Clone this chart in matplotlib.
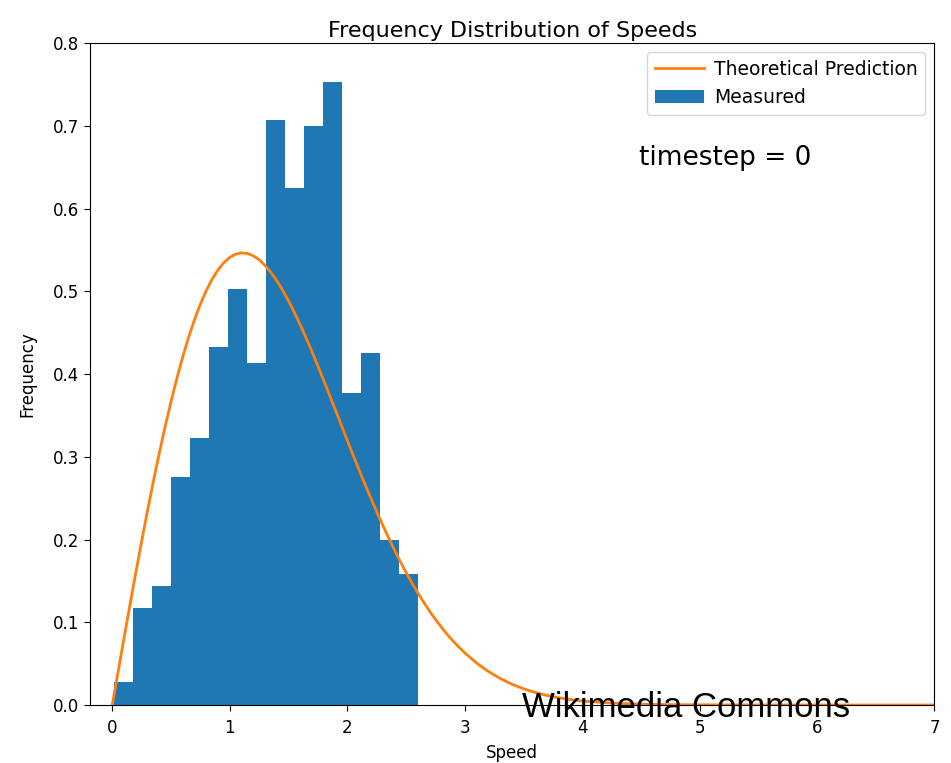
import numpy as np
import matplotlib
matplotlib.use("Agg")
import matplotlib.pyplot as plt

# Histogram (density) of measured speeds
bin_start = 0.015
bin_width = 0.1615
measured = [0.028, 0.117, 0.144, 0.275, 0.323, 0.433, 0.503, 0.413,
            0.707, 0.625, 0.700, 0.753, 0.377, 0.426, 0.200, 0.158]

# Theoretical prediction curve
theory_x = [0.0, 0.05, 0.1, 0.15, 0.2, 0.25, 0.3, 0.35, 0.4, 0.45, 0.5, 0.55,
            0.6, 0.65, 0.7, 0.75, 0.8, 0.85, 0.9, 0.95, 1.0, 1.05, 1.1, 1.15,
            1.2, 1.25, 1.3, 1.35, 1.4, 1.45, 1.5, 1.55, 1.6, 1.65, 1.7, 1.75,
            1.8, 1.85, 1.9, 1.95, 2.0, 2.05, 2.1, 2.15, 2.2, 2.25, 2.3, 2.35,
            2.4, 2.45, 2.5, 2.55, 2.6, 2.65, 2.7, 2.75, 2.8, 2.85, 2.9, 2.95,
            3.0, 3.1, 3.2, 3.3, 3.4, 3.5, 3.6, 3.7, 3.8, 3.9, 4.0, 4.25, 4.5,
            4.75, 5.0, 5.5, 6.0, 7.0]
theory_y = [0.0, 0.0405, 0.0808, 0.1206, 0.1597, 0.1978, 0.2348, 0.2703,
            0.3042, 0.3364, 0.3667, 0.3948, 0.4208, 0.4444, 0.4657, 0.4845,
            0.5008, 0.5146, 0.5258, 0.5346, 0.5409, 0.5448, 0.5464, 0.5457,
            0.5429, 0.5382, 0.5314, 0.5230, 0.5129, 0.5014, 0.4886, 0.4745,
            0.4595, 0.4437, 0.4271, 0.4099, 0.3923, 0.3744, 0.3564, 0.3383,
            0.3202, 0.3023, 0.2846, 0.2674, 0.2505, 0.2340, 0.2182, 0.2028,
            0.1881, 0.1740, 0.1606, 0.1479, 0.1358, 0.1245, 0.1137, 0.1037,
            0.0944, 0.0856, 0.0776, 0.0701, 0.0632, 0.0509, 0.0407, 0.0323,
            0.0253, 0.0197, 0.0152, 0.0116, 0.0088, 0.0066, 0.0049, 0.0023,
            0.0010, 0.0004, 0.0002, 0.00002, 0.0, 0.0]

xticks = [0, 1, 2, 3, 4, 5, 6, 7]
yticks = [0.0, 0.1, 0.2, 0.3, 0.4, 0.5, 0.6, 0.7, 0.8]

fig = plt.figure(figsize=(9.51, 7.63), dpi=100)
ax = fig.add_axes([0.0946, 0.076, 0.888, 0.8676])

edges = bin_start + bin_width * np.arange(len(measured))
ax.bar(edges, measured, width=bin_width, align='edge', color='#1f77b4',
       label='Measured', linewidth=0)
ax.plot(theory_x, theory_y, color='#ff7f0e', lw=2, label='Theoretical Prediction')

ax.set_xlim(-0.19, 7.0)
ax.set_ylim(0, 0.8)
ax.set_xticks(xticks)
ax.set_yticks(yticks)
ax.set_yticklabels([f"{t:.1f}" for t in yticks])
ax.tick_params(labelsize=12, length=4)
ax.tick_params(axis='x', pad=6)

ax.set_title('Frequency Distribution of Speeds', fontsize=16, pad=4)
ax.set_xlabel('Speed', fontsize=12, labelpad=5)
ax.set_ylabel('Frequency', fontsize=12, labelpad=12)

ax.legend(loc='upper right', fontsize=13.5, frameon=True, handlelength=2.6,
          handletextpad=0.55)
ax.text(0.65, 0.826, 'timestep = 0', transform=ax.transAxes, fontsize=19,
        va='center', ha='left')

fig.text(522 / 951, 1 - 717 / 763, 'Wikimedia Commons', fontsize=25,
         family='Liberation Sans', va='baseline', ha='left', color='black')

fig.savefig('out.png', dpi=100)
